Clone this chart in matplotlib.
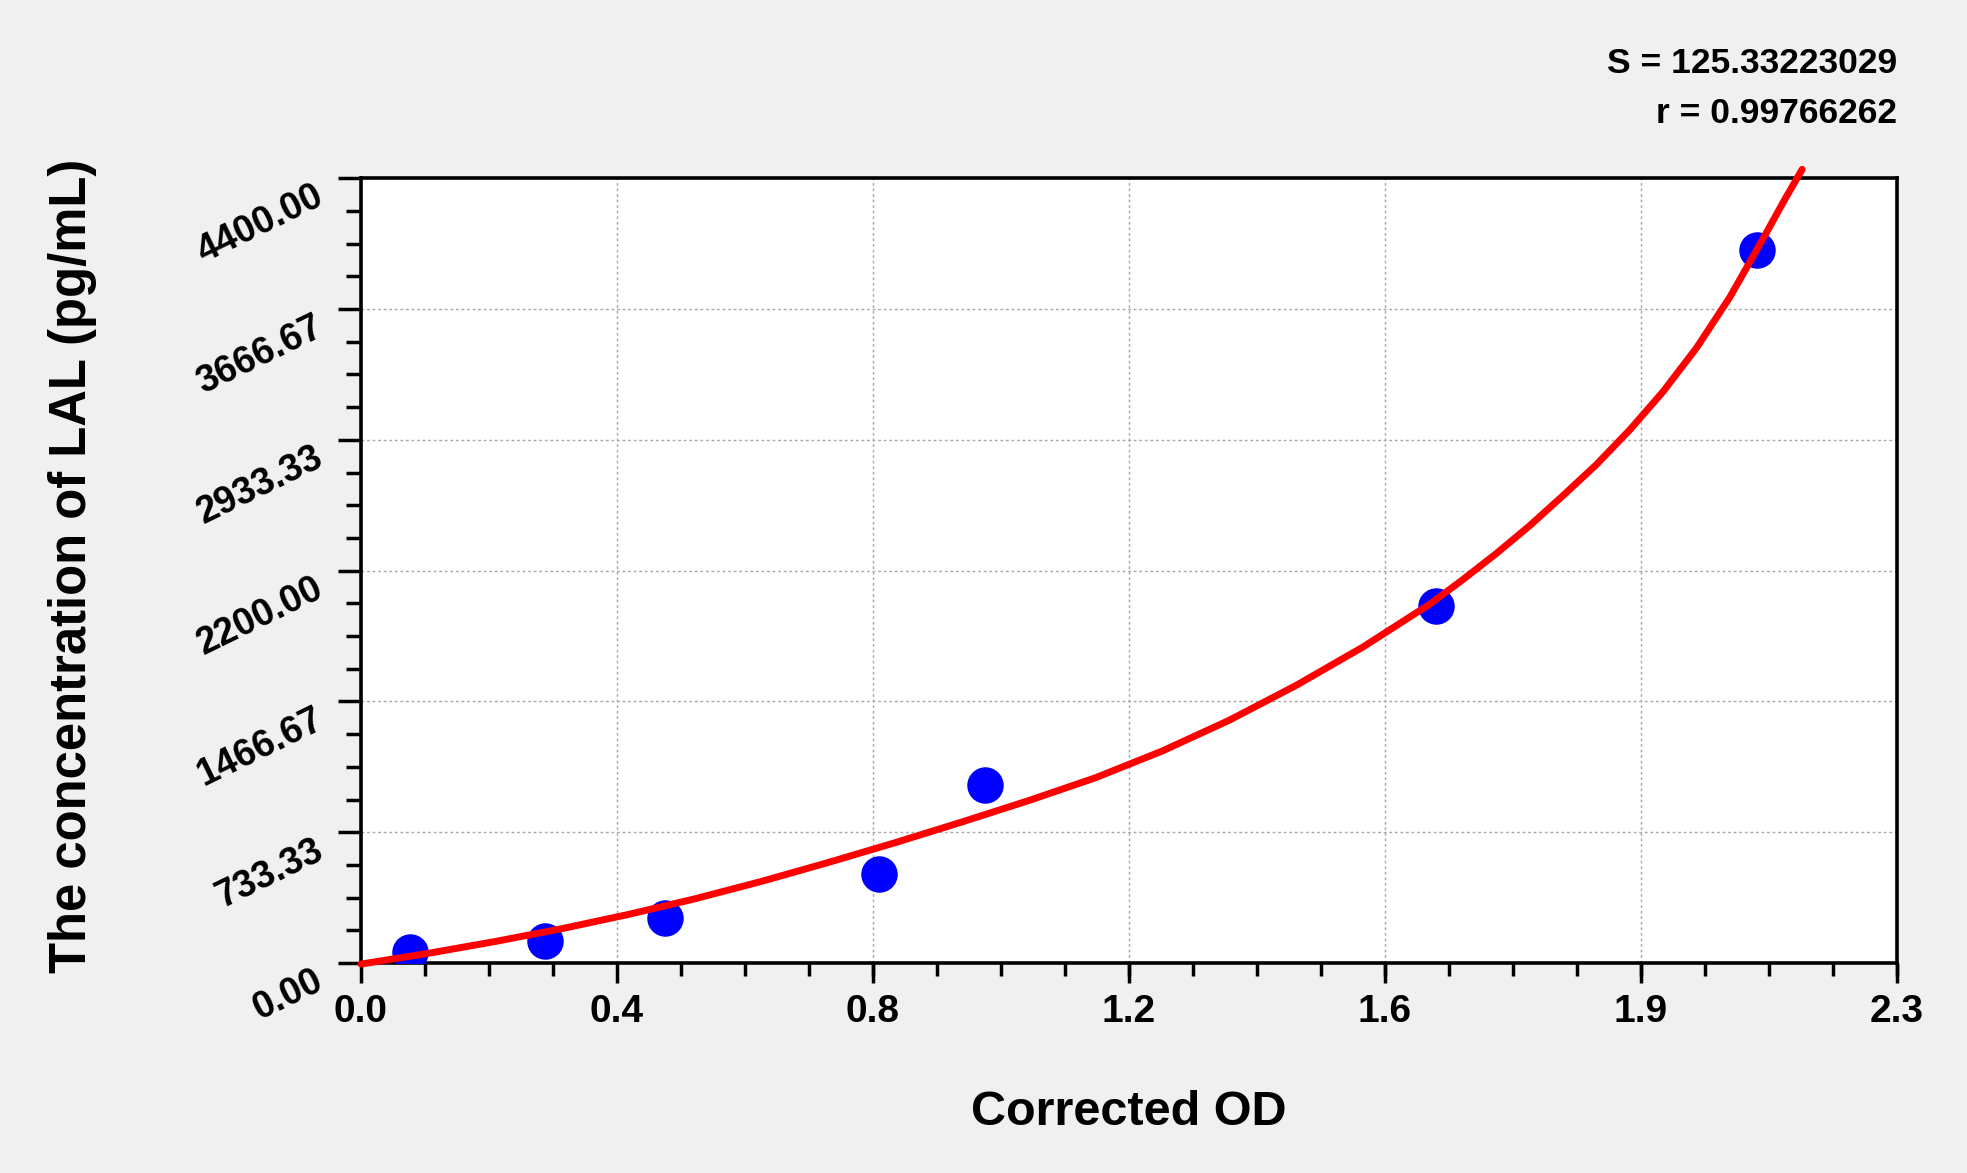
import matplotlib
matplotlib.use("Agg")
import matplotlib.pyplot as plt
from matplotlib.ticker import AutoMinorLocator

# standard points (corrected OD vs concentration)
od = [0.073, 0.275, 0.456, 0.776, 0.934, 1.610, 2.091]
conc = [62.5, 125, 250, 500, 1000, 2000, 4000]

# fitted curve
fit_od = [0.0, 0.1, 0.2, 0.3, 0.4, 0.5, 0.6, 0.7, 0.8, 0.9, 1.0, 1.1, 1.2, 1.3,
          1.4, 1.5, 1.6, 1.65, 1.7, 1.75, 1.8, 1.85, 1.9, 1.95, 2.0, 2.05, 2.1,
          2.13, 2.158]
fit_conc = [-6, 54, 120, 192, 272, 360, 458, 564, 675, 791, 911, 1039, 1189, 1361,
            1556, 1771, 2011, 2150, 2296, 2452, 2621, 2795, 2990, 3205, 3450, 3735, 4065,
            4268, 4450]

x_ticks = [0.0, 0.3833, 0.7667, 1.15, 1.5333, 1.9167, 2.3]
x_labels = ['0.0', '0.4', '0.8', '1.2', '1.6', '1.9', '2.3']
y_ticks = [0, 733.33, 1466.67, 2200, 2933.33, 3666.67, 4400]
y_labels = ['0.00', '733.33', '1466.67', '2200.00', '2933.33', '3666.67', '4400.00']

s_text = 'S = 125.33223029'
r_text = 'r = 0.99766262'

plt.rcParams['font.family'] = ['Liberation Sans', 'DejaVu Sans']
plt.rcParams['font.weight'] = 'bold'

fig = plt.figure(figsize=(19.67, 11.73), dpi=100, facecolor='#f0f0f0')
ax = fig.add_axes([0.1835, 0.179, 0.7809, 0.669])
ax.set_facecolor('white')

ax.scatter(od, conc, s=690, color='#0000ff', zorder=3, linewidths=0)
ax.plot(fit_od, fit_conc, color='#ff0000', lw=5, zorder=4, clip_on=False,
        solid_capstyle='round', solid_joinstyle='round')

ax.set_xlim(0, 2.3)
ax.set_ylim(0, 4400)
ax.set_xticks(x_ticks)
ax.set_xticklabels(x_labels, fontsize=28, fontweight='bold')
ax.set_yticks(y_ticks)
ax.set_yticklabels(y_labels, fontsize=27, fontweight='bold')
for lab in ax.get_yticklabels():
    lab.set_rotation(26)
    lab.set_rotation_mode('anchor')
    lab.set_ha('right')
    lab.set_va('top')

ax.xaxis.set_minor_locator(AutoMinorLocator(4))
ax.yaxis.set_minor_locator(AutoMinorLocator(4))
ax.tick_params(axis='x', which='major', direction='out', length=14.5, width=2.5, pad=8)
ax.tick_params(axis='x', which='minor', direction='out', length=9.5, width=2.5)
ax.tick_params(axis='y', which='major', direction='out', length=16.5, width=2.5, pad=18)
ax.tick_params(axis='y', which='minor', direction='out', length=11, width=2.5)

for sp in ax.spines.values():
    sp.set_linewidth(2.6)
    sp.set_color('black')

ax.grid(True, which='major', color='#a8a8a8', linestyle=(0, (2, 2)), linewidth=1)
ax.set_axisbelow(True)

ax.set_xlabel('Corrected OD', fontsize=35, fontweight='bold', va='center')
ax.xaxis.set_label_coords(0.5, -0.191)
ax.set_ylabel('The concentration of LAL (pg/mL)', fontsize=36.5, fontweight='bold',
              va='center')
ax.yaxis.set_label_coords(-0.1875, 0.506)

ax.text(1.0, 1.1465, s_text, transform=ax.transAxes, ha='right', va='center',
        fontsize=25.5, fontweight='bold')
ax.text(1.0, 1.083, r_text, transform=ax.transAxes, ha='right', va='center',
        fontsize=25.5, fontweight='bold')

fig.savefig('out.png', dpi=100, facecolor=fig.get_facecolor())
